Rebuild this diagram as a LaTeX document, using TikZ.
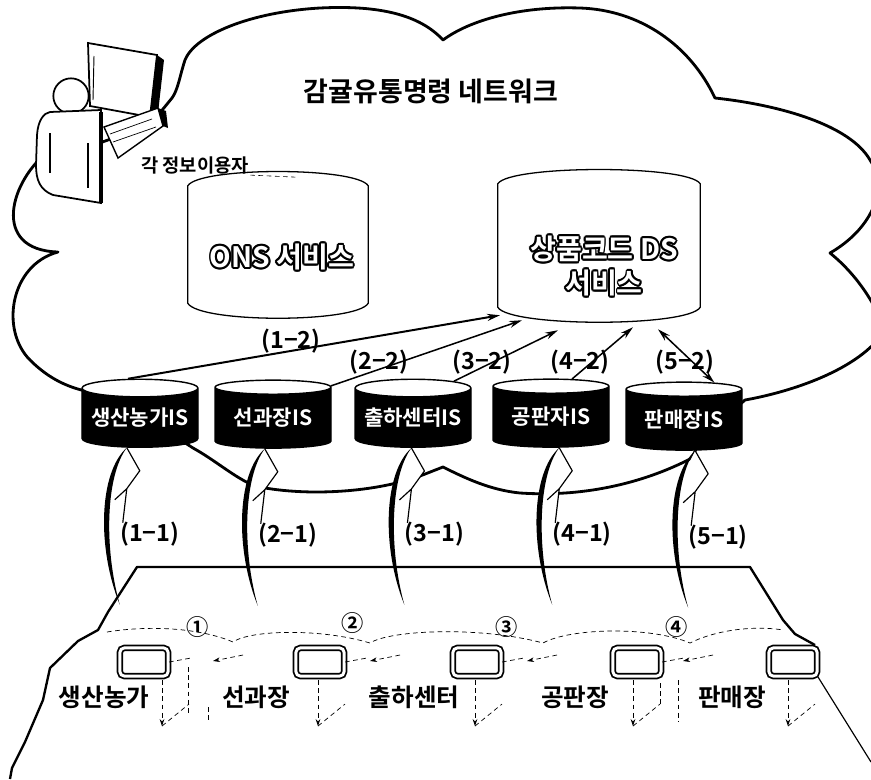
\documentclass[tikz,border=0pt]{standalone}
\usepackage{fontspec}
\setmainfont{Noto Sans CJK KR}[BoldFont={Noto Sans CJK KR Bold}]
\usetikzlibrary{shapes.geometric,arrows.meta}

% barrel outline round a named box
\newcommand\barrelpath[1]{%
  \draw[barrel line]
    ([shift={(0,14)}]#1.north west)
      .. controls ([shift={(12,-5)}]#1.north west) and ([shift={(-12,-5)}]#1.north east)
      .. ([shift={(0,14)}]#1.north east)
    -- ([shift={(0,-15)}]#1.south east)
      .. controls ([shift={(-12,5)}]#1.south east) and ([shift={(12,5)}]#1.south west)
      .. ([shift={(0,-15)}]#1.south west)
    -- cycle;}

% white lettering with a black rim: #1 name, #2 position, #3 text
\newcommand\hollownode[3]{%
  \foreach \a in {0,30,...,330}
    \node[svclbl, text=black] at ([shift={(\a:1.6pt)}]#2) {#3};
  \node[svclbl, text=white] (#1) at (#2) {#3};}

\begin{document}
\begin{tikzpicture}[x=0.03cm, y=-0.03cm,
  cloudline/.style={line width=2.4pt, line join=round},
  barrel line/.style={line width=1.1pt},
  isdb/.style={cylinder, shape border rotate=90, aspect=0.18, draw=black, line width=1.2pt,
    cylinder uses custom fill, cylinder body fill=black, cylinder end fill=white,
    minimum width=3.48cm, minimum height=2.04cm, inner sep=0pt, text=white,
    font=\bfseries\fontsize{18}{20}\selectfont},
  flow/.style={line width=1.3pt, -{Stealth[length=11pt,width=6pt]}},
  title/.style={font=\bfseries\fontsize{23}{27}\selectfont},
  userlbl/.style={font=\bfseries\fontsize{16}{18}\selectfont, inner sep=1pt},
  svclbl/.style={font=\bfseries\fontsize{24}{29}\selectfont, inner sep=0pt, align=center},
  steplbl/.style={font=\bfseries\fontsize{20}{22}\selectfont, inner sep=1pt},
  stagelbl/.style={font=\bfseries\fontsize{21}{24}\selectfont, inner sep=1pt},
  stagecard/.style={draw, line width=1.5pt, rounded corners=4pt, double=white,
    double distance=2.5pt, minimum width=1.45cm, minimum height=0.85cm},
  stagedash/.style={line width=0.6pt, dash pattern=on 4pt off 3pt},
  circnum/.style={font=\bfseries\fontsize{19}{21}\selectfont, inner sep=0pt},
  platform/.style={line width=2pt, line join=round}]
\useasboundingbox (0,0) rectangle (871,779);
\clip (0,0) rectangle (871,779);

% network cloud
\draw[cloudline] (50,150) .. controls (10,180) and (-10,250) .. (58,252)
  .. controls (10,265) and (0,330) .. (30,360)
  .. controls (50,380) and (70,388) .. (90,392)
  -- (150,420) -- (193,448)
  .. controls (215,460) and (235,478) .. (255,486)
  .. controls (300,496) and (370,494) .. (420,476)
  -- (443,467)
  .. controls (465,478) and (490,490) .. (520,493)
  .. controls (580,497) and (640,485) .. (692,458)
  -- (700,440) -- (745,400)
  .. controls (790,392) and (860,370) .. (885,330)
  .. controls (870,290) and (845,265) .. (830,253)
  .. controls (870,230) and (890,190) .. (870,160)
  .. controls (850,125) and (780,105) .. (715,98)
  .. controls (690,45) and (640,10) .. (580,8)
  .. controls (520,6) and (470,20) .. (443,40)
  .. controls (420,15) and (380,5) .. (320,8)
  .. controls (250,12) and (195,35) .. (185,60)
  .. controls (180,75) and (178,90) .. (172,98)
  -- (150,125) -- (80,150) -- cycle;

% user at the terminal
\filldraw[fill=white, line width=1.5pt] (88,43) -- (157,55) -- (150,117) -- (90,106) -- cycle;
\fill (157,55) -- (164,60) -- (157,122) -- (150,117) -- cycle;
\draw[line width=0.8pt] (94,56) -- (93,100);
\filldraw[fill=white, line width=1.2pt] (104,127) -- (158,108) -- (163,126) -- (118,158) -- cycle;
\fill (158,108) -- (166,111) -- (168,128) -- (163,126) -- cycle;
\draw[line width=0.6pt] (110,134) -- (152,119) (113,142) -- (156,127);
\filldraw[fill=white, line width=1.5pt] (71,96) circle (0.53cm);
\filldraw[fill=white, line width=1.5pt] (50,112) -- (101,110) -- (101,203) -- (53,195)
  .. controls (40,190) and (36,180) .. (36,165) -- (37,135)
  .. controls (38,120) and (44,113) .. (50,112) -- cycle;
\draw[line width=3pt] (101,112) -- (101,203);
\draw[line width=1pt] (50,133) -- (50,173) (88,143) -- (88,188);

\node[title] (net) at (431,91) {감귤유통명령 네트워크};
\node[userlbl] (user) at (195,165) {각 정보이용자};
\draw[stagedash, line width=0.5pt] (user.south east) -- ++(45,2);

% service databases
\node[minimum width=5.4cm, minimum height=4.38cm, inner sep=0pt] (onsdb) at (278,245) {};
\barrelpath{onsdb}
\hollownode{ons}{282,257}{ONS 서비스}
\node[minimum width=6.06cm, minimum height=4.56cm, inner sep=0pt] (dsdb) at (599,246) {};
\barrelpath{dsdb}
\hollownode{ds}{604,266}{상품코드 DS\\서비스}

% platform with the five stages
\draw[platform] (10,779) -- (12,768) -- (25,742) -- (43,700) -- (50,668) -- (78,641)
  -- (98,630) -- (108,612) -- (137,567) -- (750,567) -- (783,620) -- (795,634) -- (815,645);
\draw[stagedash] (107,632) .. controls (150,625) and (200,628) .. (233,642)
  .. controls (250,630) and (320,628) .. (370,643)
  .. controls (390,630) and (480,626) .. (543,643)
  .. controls (570,628) and (650,626) .. (690,643)
  .. controls (720,628) and (760,626) .. (783,630);
\node[circnum] (c1) at (198,627) {①};
\node[circnum] (c2) at (353,623) {②};
\node[circnum] (c3) at (507,627) {③};
\node[circnum] (c4) at (677,627) {④};

\node[stagecard] (farmcard) at (144,662) {};
\node[stagecard] (gradecard) at (320,662) {};
\node[stagecard] (shipcard) at (477,662) {};
\node[stagecard] (auctioncard) at (637,662) {};
\node[stagecard] (shopcard) at (793,662) {};
\draw[line width=1pt] (shopcard.south east) -- (871,762);

\foreach \c/\dx in {farmcard/18, gradecard/-2, shipcard/-2, auctioncard/-4, shopcard/-5}{
  \draw[stagedash, -{Stealth[length=6pt,width=4pt]}] ([shift={(\dx,3)}]\c.south) -- ++(0,46);
  \draw[stagedash] ([shift={(\dx,49)}]\c.south) -- ++(27,-22);
}
\foreach \c in {farmcard, gradecard, shipcard, auctioncard}
  \draw[stagedash] (\c.east) -- ++(22,-4);
\foreach \xa in {213,370,527,683}
  \draw[stagedash, -{Stealth[length=6pt,width=4pt]}] (\xa+30,655) -- (\xa,661);
\draw[stagedash] (188,667) -- (188,713) (208,707) -- (208,720) (660,683) -- (660,707) (678,680) -- (678,722);

\node[stagelbl] (farm) at (104,697) {생산농가};
\node[stagelbl] (grade) at (256,697) {선과장};
\node[stagelbl] (ship) at (414,697) {출하센터};
\node[stagelbl] (auction) at (575,697) {공판장};
\node[stagelbl] (shop) at (732,697) {판매장};

% information systems
\node[isdb] (farmis) at (140,418) {생산농가IS};
\node[isdb] (gradeis) at (273,418) {선과장IS};
\node[isdb] (shipis) at (413,418) {출하센터IS};
\node[isdb] (auctionis) at (551,417) {공판자IS};
\node[isdb] (shopis) at (684,420) {판매장IS};

% code lookups
\draw[flow, line width=1.7pt] (farmis.107) -- ([shift={(-99,-7)}]dsdb.south);
\draw[flow] (gradeis.29) -- ([shift={(-77,-2)}]dsdb.south);
\draw[flow] (shipis.42) -- ([shift={(-41,8)}]dsdb.south);
\draw[flow] (auctionis.61) -- ([shift={(34,5)}]dsdb.south);
\draw[flow, {Stealth[length=11pt,width=6pt]}-{Stealth[length=11pt,width=6pt]}] (shopis.51) -- ([shift={(59,7)}]dsdb.south);
\node[steplbl] (q12) at (291,341) {(1−2)};
\node[steplbl] (q22) at (379,362) {(2−2)};
\node[steplbl] (q32) at (482,362) {(3−2)};
\node[steplbl] (q42) at (580,362) {(4−2)};
\node[steplbl] (q52) at (685,362) {(5−2)};

% uploads from the stages
\foreach \db/\ang/\n in {farmis/246/1, gradeis/255/2, shipis/267/3, auctionis/285/4, shopis/290/5}{
  \begin{scope}[shift={(\db.\ang)}]
    \fill[white] (0,0) -- (13,23) -- (0,41) -- (-4,75) -- (-16,75) -- (-20,40) -- cycle;
    \draw[line width=1pt, line join=round] (0,0) -- (13,23) -- (0,41) -- (-4,75) (0,41) -- (-12,52);
    \fill (0,0) .. controls (-28,25) and (-30,100) .. (-7,157)
      .. controls (-23,100) and (-21,28) .. (0,0) -- cycle;
    \node[steplbl] (q\n1) at (23,86) {(\n−1)};
  \end{scope}
}
\end{tikzpicture}
\end{document}
